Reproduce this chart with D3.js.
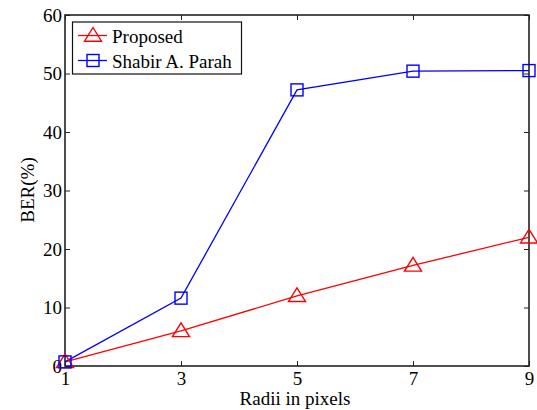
<!DOCTYPE html>
<html><head><meta charset="utf-8">
<script src="https://cdn.jsdelivr.net/npm/d3@7"></script>
<style>body{margin:0;background:#fff}svg{display:block}text{font-family:"Liberation Serif","Times New Roman",serif;}</style>
</head><body><svg id="c" width="537" height="410"></svg>
<script>
const radii = [1, 3, 5, 7, 9];
const proposed = [0.7, 6.0, 12.0, 17.2, 22.0];
const parah = [0.7, 11.6, 47.2, 50.4, 50.5];
const xTicks = [1, 3, 5, 7, 9];
const yTicks = [0, 10, 20, 30, 40, 50, 60];
const seriesNames = ["Proposed", "Shabir A. Parah"];

const svg = d3.select("#c");
const L = 65, R = 529, T = 15, B = 366;
const x = d3.scaleLinear().domain([1, 9]).range([L, R]);
const y = d3.scaleLinear().domain([0, 60]).range([B, T]);

const fs = 19;
const gx = svg.append("g").attr("transform", `translate(0,${B})`)
  .call(d3.axisBottom(x).tickValues(xTicks).tickSizeInner(-5).tickSizeOuter(0).tickPadding(6).tickFormat(d3.format("d")));
const gxt = svg.append("g").attr("transform", `translate(0,${T})`)
  .call(d3.axisTop(x).tickValues(xTicks).tickSizeInner(-5).tickSizeOuter(0).tickFormat(""));
const gy = svg.append("g").attr("transform", `translate(${L},0)`)
  .call(d3.axisLeft(y).tickValues(yTicks).tickSizeInner(-5).tickSizeOuter(0).tickPadding(3).tickFormat(d3.format("d")));
const gyr = svg.append("g").attr("transform", `translate(${R},0)`)
  .call(d3.axisRight(y).tickValues(yTicks).tickSizeInner(-5).tickSizeOuter(0).tickFormat(""));
[gx, gxt, gy, gyr].forEach(g => {
  g.select(".domain").remove();
  g.selectAll("line").attr("stroke", "#222").attr("stroke-width", 1);
  g.selectAll("text").attr("font-size", fs).attr("fill", "#000").style("font-family", '"Liberation Serif",serif');
});
svg.append("rect").attr("x", L).attr("y", T).attr("width", R - L).attr("height", B - T)
  .attr("fill", "none").attr("stroke", "#222").attr("stroke-width", 1.6);

const line = d3.line().x((d, i) => x(radii[i])).y(d => y(d));
function drawTri(g, cx, cy) {
  g.append("path").attr("d", `M${cx},${cy-8}L${cx+8.5},${cy+5.7}L${cx-8.5},${cy+5.7}Z`)
    .attr("fill", "none").attr("stroke", "red").attr("stroke-width", 1.4);
}
function drawSq(g, cx, cy) {
  g.append("rect").attr("x", cx - 6).attr("y", cy - 6).attr("width", 12).attr("height", 12)
    .attr("fill", "none").attr("stroke", "blue").attr("stroke-width", 1.4);
}
svg.append("path").datum(proposed).attr("d", line).attr("fill", "none").attr("stroke", "red").attr("stroke-width", 1.3);
svg.append("path").datum(parah).attr("d", line).attr("fill", "none").attr("stroke", "blue").attr("stroke-width", 1.3);
const gm = svg.append("g");
proposed.forEach((v, i) => drawTri(gm, x(radii[i]), y(v)));
parah.forEach((v, i) => drawSq(gm, x(radii[i]), y(v)));

const lg = svg.append("g");
lg.append("rect").attr("x", 72.5).attr("y", 22).attr("width", 169).attr("height", 52)
  .attr("fill", "#fff").attr("stroke", "#111").attr("stroke-width", 1.2);
const colors = ["red", "blue"];
seriesNames.forEach((n, i) => {
  const cy = 35.5 + i * 25;
  lg.append("line").attr("x1", 78).attr("x2", 107).attr("y1", cy).attr("y2", cy).attr("stroke", colors[i]).attr("stroke-width", 1.3);
  if (i === 0) drawTri(lg, 93, cy); else drawSq(lg, 93, cy);
  lg.append("text").attr("x", 112).attr("y", cy + 7).attr("font-size", fs).text(n);
});

svg.append("text").attr("x", 295).attr("y", 405).attr("text-anchor", "middle").attr("font-size", fs).text("Radii in pixels");
svg.append("text").attr("transform", `translate(34,190) rotate(-90)`).attr("text-anchor", "middle").attr("font-size", fs).text("BER(%)");
</script></body></html>
